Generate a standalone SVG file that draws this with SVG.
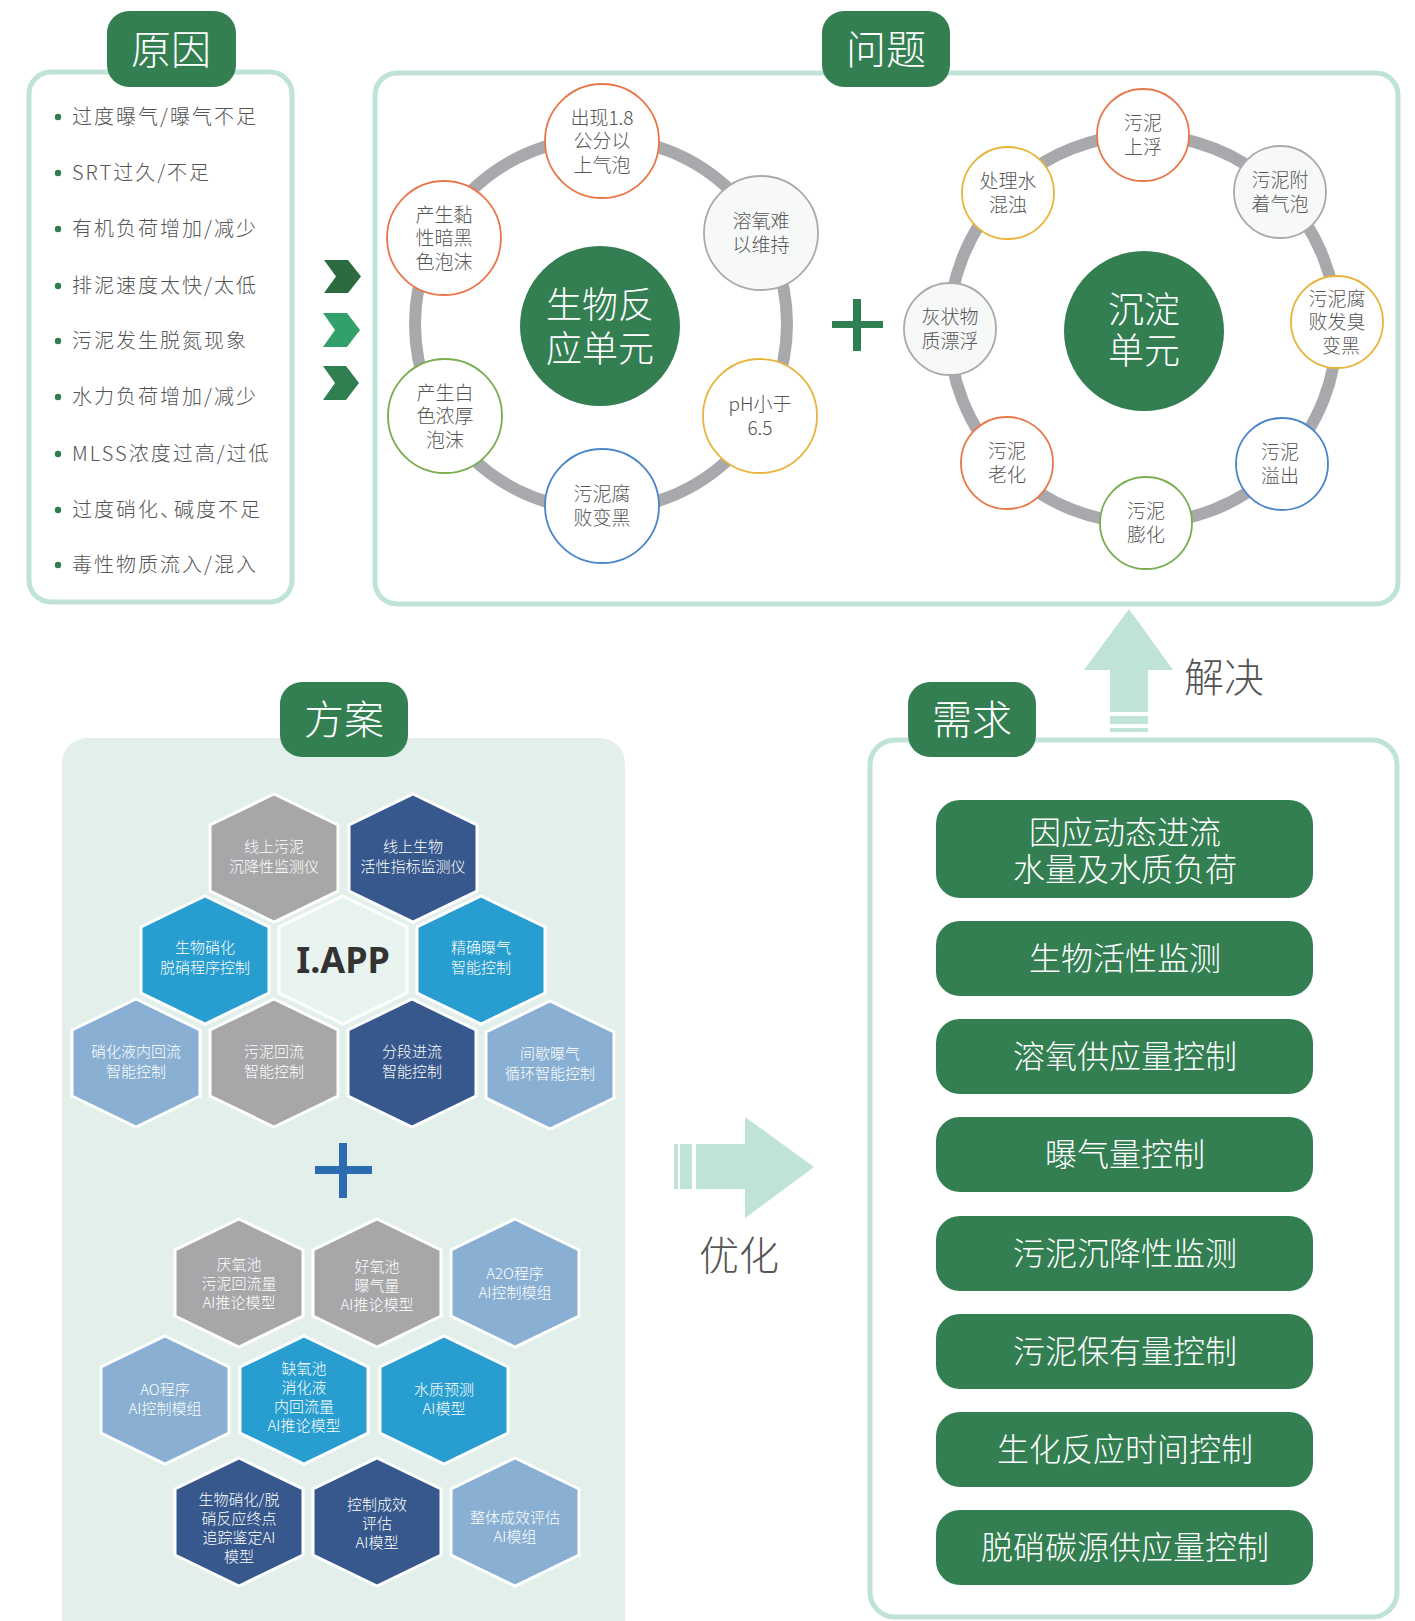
<svg xmlns="http://www.w3.org/2000/svg" width="1415" height="1621" viewBox="0 0 1415 1621">
<style>
text{font-family:"Noto Sans CJK SC","Noto Sans",sans-serif;font-weight:300}
.frame{fill:#fff;stroke:#bfe3d6;stroke-width:5}
.tab{fill:#337f52}
.tabt{fill:#fff;font-size:40px;text-anchor:middle}
.bul{fill:#555;font-size:20px;letter-spacing:2px}
.dot{fill:#2e7d4f}
.ring{fill:none;stroke:#a8a9ac;stroke-width:12}
.core{fill:#337f52}
.coret{fill:#fff;font-size:36px;text-anchor:middle}
.sc{stroke-width:1.8;fill:#fff}
.o{stroke:#e8784a}.g{stroke:#a9aaac;fill:#f7f8f8}.y{stroke:#e7b43c}.b{stroke:#4a86c8}.gr{stroke:#78ad52}
.ct{fill:#555;font-size:19px;text-anchor:middle}
.hex{stroke:#fff;stroke-width:3}
.hg{fill:#a7a6a9}.hd{fill:#36588c}.hb{fill:#289dcf}.hl{fill:#89b0d3}.hc{fill:#e9f3ef}
.ht{fill:#fff;font-size:15px;text-anchor:middle}
.mint{fill:#bfe3d6}
.lbl{fill:#555;font-size:40px}
.btn{fill:#337f52}
.bt{fill:#fff;font-size:32px;text-anchor:middle}
</style>
<defs>
<polygon id="hx" points="0,-64 64,-33 64,33 0,64 -64,33 -64,-33"/>
</defs>

<!-- 原因 -->
<g id="cause">
<rect class="frame" x="29" y="72" width="263" height="530" rx="22"/>
<rect class="tab" x="107" y="11" width="129" height="76" rx="22"/>
<text class="tabt" x="171" y="64">原因</text>
<circle class="dot" cx="58" cy="117" r="3.2"/><text class="bul" x="72" y="124">过度曝气/曝气不足</text>
<circle class="dot" cx="58" cy="173" r="3.2"/><text class="bul" x="72" y="180">SRT过久/不足</text>
<circle class="dot" cx="58" cy="229" r="3.2"/><text class="bul" x="72" y="236">有机负荷增加/减少</text>
<circle class="dot" cx="58" cy="286" r="3.2"/><text class="bul" x="72" y="293">排泥速度太快/太低</text>
<circle class="dot" cx="58" cy="341" r="3.2"/><text class="bul" x="72" y="348">污泥发生脱氮现象</text>
<circle class="dot" cx="58" cy="397" r="3.2"/><text class="bul" x="72" y="404">水力负荷增加/减少</text>
<circle class="dot" cx="58" cy="454" r="3.2"/><text class="bul" x="72" y="461">MLSS浓度过高/过低</text>
<circle class="dot" cx="58" cy="510" r="3.2"/><text class="bul" x="72" y="517">过度硝化<tspan letter-spacing="-6">、</tspan>碱度不足</text>
<circle class="dot" cx="58" cy="565" r="3.2"/><text class="bul" x="72" y="572">毒性物质流入/混入</text>
</g>

<!-- 问题 -->
<g id="problem">
<rect class="frame" x="375" y="73" width="1023" height="531" rx="22"/>
<rect class="tab" x="822" y="11" width="128" height="76" rx="22"/>
<text class="tabt" x="886" y="64">问题</text>
</g>

<g id="bio-unit">
<circle class="ring" cx="601" cy="324" r="186"/>
<circle class="core" cx="600" cy="326" r="80"/>
<text class="coret" x="600" y="318">生物反</text>
<text class="coret" x="600" y="362">应单元</text>
<g id="bio-1"><circle class="sc o" cx="602" cy="141" r="57"/><text class="ct" x="602" y="124.5">出现1.8</text><text class="ct" x="602" y="148">公分以</text><text class="ct" x="602" y="171.5">上气泡</text></g>
<g id="bio-2"><circle class="sc g" cx="761" cy="233" r="57"/><text class="ct" x="761" y="228">溶氧难</text><text class="ct" x="761" y="252">以维持</text></g>
<g id="bio-3"><circle class="sc y" cx="760" cy="416" r="57"/><text class="ct" x="760" y="411">pH小于</text><text class="ct" x="760" y="435">6.5</text></g>
<g id="bio-4"><circle class="sc b" cx="602" cy="506" r="57"/><text class="ct" x="602" y="501">污泥腐</text><text class="ct" x="602" y="525">败变黑</text></g>
<g id="bio-5"><circle class="sc gr" cx="445" cy="416" r="57"/><text class="ct" x="445" y="399.5">产生白</text><text class="ct" x="445" y="423">色浓厚</text><text class="ct" x="445" y="446.5">泡沫</text></g>
<g id="bio-6"><circle class="sc o" cx="444" cy="238" r="57"/><text class="ct" x="444" y="221.5">产生黏</text><text class="ct" x="444" y="245">性暗黑</text><text class="ct" x="444" y="268.5">色泡沫</text></g>
</g>

<g id="plus-green">
<rect x="832" y="321" width="51" height="7" fill="#2f8050"/>
<rect x="853" y="299" width="8" height="52" fill="#2f8050"/>
</g>

<g id="sed-unit">
<circle class="ring" cx="1143" cy="329" r="194"/>
<circle class="core" cx="1144" cy="331" r="80"/>
<text class="coret" x="1144" y="323">沉淀</text>
<text class="coret" x="1144" y="364">单元</text>
<g id="sed-1"><circle class="sc o" cx="1143" cy="135" r="46"/><text class="ct" x="1143" y="130">污泥</text><text class="ct" x="1143" y="154">上浮</text></g>
<g id="sed-2"><circle class="sc g" cx="1280" cy="192" r="46"/><text class="ct" x="1280" y="187">污泥附</text><text class="ct" x="1280" y="211">着气泡</text></g>
<g id="sed-3"><circle class="sc y" cx="1337" cy="322" r="46"/><text class="ct" x="1337" y="305.5">污泥腐</text><text class="ct" x="1337" y="329">败发臭</text><text class="ct" x="1341" y="352.5">变黑</text></g>
<g id="sed-4"><circle class="sc b" cx="1282" cy="464" r="46"/><text class="ct" x="1280" y="459">污泥</text><text class="ct" x="1280" y="483">溢出</text></g>
<g id="sed-5"><circle class="sc gr" cx="1146" cy="523" r="46"/><text class="ct" x="1146" y="518">污泥</text><text class="ct" x="1146" y="542">膨化</text></g>
<g id="sed-6"><circle class="sc o" cx="1007" cy="463" r="46"/><text class="ct" x="1007" y="458">污泥</text><text class="ct" x="1007" y="482">老化</text></g>
<g id="sed-7"><circle class="sc g" cx="950" cy="329" r="46"/><text class="ct" x="950" y="324">灰状物</text><text class="ct" x="950" y="348">质漂浮</text></g>
<g id="sed-8"><circle class="sc y" cx="1008" cy="193" r="46"/><text class="ct" x="1008" y="188">处理水</text><text class="ct" x="1008" y="212">混浊</text></g>
</g>

<!-- connectors / arrows -->
<g id="connectors">
<polygon points="324,260 348,260 361,276.5 348,293 324,293 336,276.5" fill="#2b6b3f"/>
<polygon points="323,313 347,313 360,330 347,347 323,347 335,330" fill="#33a06a"/>
<polygon points="323,366 346,366 359,383 346,400 323,400 335,383" fill="#2f7f50"/>
<polygon class="mint" points="1129,609 1173,670 1148,670 1148,712 1110,712 1110,670 1084,670"/>
<rect class="mint" x="1110" y="716" width="38" height="8"/>
<rect class="mint" x="1110" y="728" width="38" height="4"/>
<rect class="mint" x="674" y="1144" width="4" height="45"/>
<rect class="mint" x="680" y="1144" width="12" height="45"/>
<polygon class="mint" points="696,1144 745,1144 745,1117 814,1167 745,1218 745,1189 696,1189"/>
<text class="lbl" x="1184" y="692">解决</text>
<text class="lbl" x="739" y="1270" text-anchor="middle">优化</text>
</g>

<!-- 方案 -->
<g id="solution">
<rect x="62" y="738" width="563" height="920" rx="25" fill="#e3efeb"/>
<rect class="tab" x="280" y="682" width="128" height="75" rx="22"/>
<text class="tabt" x="344" y="734">方案</text>
</g>

<g id="hex-1"><use href="#hx" class="hex hg" x="274" y="858"/><text class="ht" x="274" y="852">线上污泥</text><text class="ht" x="274" y="872">沉降性监测仪</text></g>
<g id="hex-2"><use href="#hx" class="hex hd" x="413" y="858"/><text class="ht" x="413" y="852">线上生物</text><text class="ht" x="413" y="872">活性指标监测仪</text></g>
<g id="hex-3"><use href="#hx" class="hex hb" x="205" y="960"/><text class="ht" x="205" y="953">生物硝化</text><text class="ht" x="205" y="973">脱硝程序控制</text></g>
<g id="hex-4"><use href="#hx" class="hex hc" x="343" y="960"/><text x="343" y="973" text-anchor="middle" style="font-family:'Noto Sans',sans-serif;font-weight:bold" font-size="36" fill="#333">I.APP</text></g>
<g id="hex-5"><use href="#hx" class="hex hb" x="481" y="960"/><text class="ht" x="481" y="953">精确曝气</text><text class="ht" x="481" y="973">智能控制</text></g>
<g id="hex-6"><use href="#hx" class="hex hl" x="136" y="1063"/><text class="ht" x="136" y="1057">硝化液内回流</text><text class="ht" x="136" y="1077">智能控制</text></g>
<g id="hex-7"><use href="#hx" class="hex hg" x="274" y="1063"/><text class="ht" x="274" y="1057">污泥回流</text><text class="ht" x="274" y="1077">智能控制</text></g>
<g id="hex-8"><use href="#hx" class="hex hd" x="412" y="1063"/><text class="ht" x="412" y="1057">分段进流</text><text class="ht" x="412" y="1077">智能控制</text></g>
<g id="hex-9"><use href="#hx" class="hex hl" x="550" y="1065"/><text class="ht" x="550" y="1059">间歇曝气</text><text class="ht" x="550" y="1079">循环智能控制</text></g>

<g id="plus-blue">
<rect x="315" y="1166" width="57" height="8" fill="#2b6cb0"/>
<rect x="339" y="1143" width="8" height="55" fill="#2b6cb0"/>
</g>

<g id="hex-10"><use href="#hx" class="hex hg" x="239" y="1283"/><text class="ht" x="239" y="1270">厌氧池</text><text class="ht" x="239" y="1289">污泥回流量</text><text class="ht" x="239" y="1308">AI推论模型</text></g>
<g id="hex-11"><use href="#hx" class="hex hg" x="377" y="1283"/><text class="ht" x="377" y="1272">好氧池</text><text class="ht" x="377" y="1291">曝气量</text><text class="ht" x="377" y="1310">AI推论模型</text></g>
<g id="hex-12"><use href="#hx" class="hex hl" x="515" y="1283"/><text class="ht" x="515" y="1279">A2O程序</text><text class="ht" x="515" y="1298">AI控制模组</text></g>
<g id="hex-13"><use href="#hx" class="hex hl" x="165" y="1400"/><text class="ht" x="165" y="1395">AO程序</text><text class="ht" x="165" y="1414">AI控制模组</text></g>
<g id="hex-14"><use href="#hx" class="hex hb" x="304" y="1400"/><text class="ht" x="304" y="1374">缺氧池</text><text class="ht" x="304" y="1393">消化液</text><text class="ht" x="304" y="1412">内回流量</text><text class="ht" x="304" y="1431">AI推论模型</text></g>
<g id="hex-15"><use href="#hx" class="hex hb" x="444" y="1400"/><text class="ht" x="444" y="1395">水质预测</text><text class="ht" x="444" y="1414">AI模型</text></g>
<g id="hex-16"><use href="#hx" class="hex hd" x="239" y="1522"/><text class="ht" x="239" y="1505">生物硝化/脱</text><text class="ht" x="239" y="1524">硝反应终点</text><text class="ht" x="239" y="1543">追踪鉴定AI</text><text class="ht" x="239" y="1562">模型</text></g>
<g id="hex-17"><use href="#hx" class="hex hd" x="377" y="1522"/><text class="ht" x="377" y="1510">控制成效</text><text class="ht" x="377" y="1529">评估</text><text class="ht" x="377" y="1548">AI模型</text></g>
<g id="hex-18"><use href="#hx" class="hex hl" x="515" y="1522"/><text class="ht" x="515" y="1523">整体成效评估</text><text class="ht" x="515" y="1542">AI模组</text></g>

<!-- 需求 -->
<g id="demand">
<rect class="frame" x="870" y="740" width="527" height="877" rx="25"/>
<rect class="tab" x="908" y="682" width="128" height="75" rx="22"/>
<text class="tabt" x="972" y="734">需求</text>
</g>
<g id="need-1"><rect class="btn" x="936" y="800" width="377" height="98" rx="24"/><text class="bt" x="1125" y="844">因应动态进流</text><text class="bt" x="1125" y="881">水量及水质负荷</text></g>
<g id="need-2"><rect class="btn" x="936" y="921" width="377" height="75" rx="24"/><text class="bt" x="1125" y="970">生物活性监测</text></g>
<g id="need-3"><rect class="btn" x="936" y="1019" width="377" height="75" rx="24"/><text class="bt" x="1125" y="1068">溶氧供应量控制</text></g>
<g id="need-4"><rect class="btn" x="936" y="1117" width="377" height="75" rx="24"/><text class="bt" x="1125" y="1166">曝气量控制</text></g>
<g id="need-5"><rect class="btn" x="936" y="1216" width="377" height="75" rx="24"/><text class="bt" x="1125" y="1265">污泥沉降性监测</text></g>
<g id="need-6"><rect class="btn" x="936" y="1314" width="377" height="75" rx="24"/><text class="bt" x="1125" y="1363">污泥保有量控制</text></g>
<g id="need-7"><rect class="btn" x="936" y="1412" width="377" height="75" rx="24"/><text class="bt" x="1125" y="1461">生化反应时间控制</text></g>
<g id="need-8"><rect class="btn" x="936" y="1510" width="377" height="75" rx="24"/><text class="bt" x="1125" y="1559">脱硝碳源供应量控制</text></g>
</svg>
